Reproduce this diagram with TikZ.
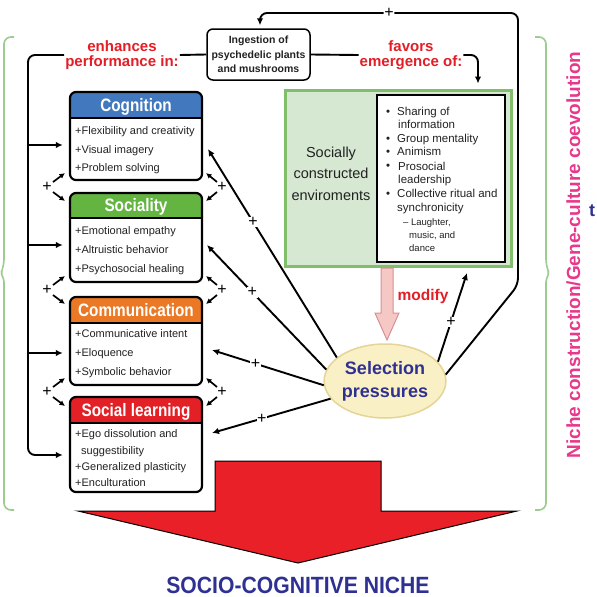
\documentclass[tikz,border=0pt]{standalone}
\usepackage{fontspec}
\setmainfont{Liberation Sans}
\newfontfamily\narrowsf[FakeStretch=0.85]{Liberation Sans}
\newfontfamily\semisf[FakeStretch=0.9]{Liberation Sans}
\usetikzlibrary{shapes.geometric,arrows.meta,calc,fit}
\definecolor{redtxt}{RGB}{228,30,38}
\definecolor{navy}{RGB}{46,49,146}
\definecolor{pinkT}{RGB}{232,56,140}
\definecolor{cogblue}{RGB}{66,121,190}
\definecolor{socgreen}{RGB}{100,180,66}
\definecolor{comorange}{RGB}{234,120,36}
\definecolor{slred}{RGB}{226,32,38}
\definecolor{envfill}{RGB}{214,231,210}
\definecolor{envborder}{RGB}{128,190,108}
\definecolor{bracegreen}{RGB}{156,204,144}
\definecolor{elfill}{RGB}{250,240,198}
\definecolor{elborder}{RGB}{228,212,150}
\definecolor{modfill}{RGB}{245,200,198}
\definecolor{modborder}{RGB}{214,146,146}
\definecolor{bigred}{RGB}{234,32,40}
\definecolor{txt}{RGB}{34,34,34}

\newcommand\catbox[6]{%
  \begin{scope}
    \clip[rounded corners=6pt] (70,#2) rectangle (202,#4);
    \fill[#5] (70,#2) rectangle (202,#3);
  \end{scope}
  \draw[line width=2pt] (70,#3) -- (202,#3);
  \draw[boxframe] (70,#2) rectangle (202,#4);
  \node[inner sep=0pt, fit={(70,#2) (202,#4)}] (#1) {};
  \node[ttl] (#1t) at (136,{#3-6.5}) {#6};
}

\begin{document}
\begin{tikzpicture}[x=1pt,y=-1pt,
  ln/.style={line width=1.9pt},
  arr/.style={ln, -{Latex[length=7pt,width=6.5pt]}},
  sarr/.style={line width=1.7pt, -{Latex[length=5.5pt,width=5.5pt]}},
  plus/.style={font=\fontsize{16}{16}\selectfont, fill=white, inner sep=0.6pt},
  itm/.style={anchor=base west, inner sep=0pt, text=txt, font=\fontsize{11}{11}\selectfont},
  blt/.style={anchor=base west, inner sep=0pt, text=txt, font=\fontsize{11.5}{11.5}\selectfont},
  subitm/.style={anchor=base west, inner sep=0pt, text=txt, font=\fontsize{9.5}{9.5}\selectfont},
  ttl/.style={anchor=base, inner sep=0pt, text=white, font=\narrowsf\bfseries\fontsize{18}{18}\selectfont},
  boxframe/.style={draw, line width=2.2pt, rounded corners=6pt},
  rlab/.style={text=redtxt, font=\bfseries\fontsize{15}{15}\selectfont, align=center, inner sep=1pt},
  brace/.style={draw=bracegreen, line width=1.6pt, rounded corners=7pt},
]
\fill[white] (0,0) rectangle (597,597);
\useasboundingbox (0,0) rectangle (597,597);

% braces
\draw[brace] (14,37) -- (4,37) -- (4,266) [rounded corners=2pt] -- (1,273) -- (4,280) [rounded corners=7pt] -- (4,510) -- (14,510);
\draw[brace] (535,37) -- (546,37) -- (546,266) [rounded corners=2pt] -- (549,273) -- (546,280) [rounded corners=7pt] -- (546,510) -- (535,510);

% side labels
\node[rotate=90, anchor=base, text=pinkT, font=\bfseries\fontsize{19}{19}\selectfont, inner sep=0pt] (nc) at (580,255) {Niche construction/Gene-culture coevolution};
\node[anchor=base west, text=navy, font=\bfseries\fontsize{18}{18}\selectfont, inner sep=0pt] (tt) at (589,216) {t};

% big red arrow
\fill[bigred, draw=black, line width=1pt] (215,461) -- (381,461) -- (381,511) -- (517,511) -- (298,563) -- (78,511) -- (215,511) -- cycle;
\node[anchor=base, text=navy, font=\semisf\bfseries\fontsize{23.5}{23.5}\selectfont, inner sep=0pt] (niche) at (298,593) {SOCIO-COGNITIVE NICHE};

% ingestion
\node[draw, line width=1.5pt, rounded corners=6pt, minimum width=103pt, minimum height=51pt, align=center, font=\bfseries\fontsize{10.5}{14.5}\selectfont, text=txt, inner sep=0pt] (ing) at (258.5,54.5) {Ingestion of\\psychedelic plants\\and mushrooms};
\node[rlab] (enh) at (122,55) {enhances\\performance in:};
\node[rlab] (fav) at (411,55) {favors\\emergence of:};

% category boxes
\catbox{cog}{92}{118}{180}{cogblue}{Cognition}
\catbox{soc}{193}{218}{282}{socgreen}{Sociality}
\catbox{com}{297}{323}{385}{comorange}{Communication}
\catbox{sl}{397}{423}{492}{slred}{Social learning}

\node[itm] (c1) at (75,134) {+Flexibility and creativity};
\node[itm] (c2) at (75,153) {+Visual imagery};
\node[itm] (c3) at (75,171) {+Problem solving};
\node[itm] (s1) at (75,234) {+Emotional empathy};
\node[itm] (s2) at (75,253) {+Altruistic behavior};
\node[itm] (s3) at (75,272) {+Psychosocial healing};
\node[itm] (m1) at (75,337) {+Communicative intent};
\node[itm] (m2) at (75,356) {+Eloquence};
\node[itm] (m3) at (75,375) {+Symbolic behavior};
\node[itm] (l1) at (75,437) {+Ego dissolution and};
\node[itm] (l2) at (81,454) {suggestibility};
\node[itm] (l3) at (75,470) {+Generalized plasticity};
\node[itm] (l4) at (75,486) {+Enculturation};

% socially constructed environments
\node[draw=envborder, fill=envfill, line width=3pt, minimum width=226pt, minimum height=176pt, inner sep=0pt] (env) at (398,178) {};
\node[draw=black, fill=white, line width=2.8pt, minimum width=128pt, minimum height=167pt, inner sep=0pt] (lst) at (441,178.5) {};
\node[anchor=base, text=txt, font=\fontsize{14.5}{14.5}\selectfont, inner sep=0pt] (e1) at (331,157) {Socially};
\node[anchor=base, text=txt, font=\fontsize{14.5}{14.5}\selectfont, inner sep=0pt] (e2) at (331,178) {constructed};
\node[anchor=base, text=txt, font=\fontsize{14.5}{14.5}\selectfont, inner sep=0pt] (e3) at (331,200) {enviroments};

\node[blt] (d1) at (386,115) {\textbullet};
\node[blt] (t1) at (397,115) {Sharing of};
\node[blt] (t1b) at (398,128) {information};
\node[blt] (d2) at (386,142) {\textbullet};
\node[blt] (t2) at (397,142) {Group mentality};
\node[blt] (d3) at (386,155) {\textbullet};
\node[blt] (t3) at (397,155) {Animism};
\node[blt] (d4) at (386,169) {\textbullet};
\node[blt] (t4) at (398,170) {Prosocial};
\node[blt] (t4b) at (398,183) {leadership};
\node[blt] (d5) at (386,197) {\textbullet};
\node[blt] (t5) at (397,197) {Collective ritual and};
\node[blt] (t5b) at (397,211) {synchronicity};
\node[subitm] (u1) at (403,225) {-- Laughter,};
\node[subitm] (u2) at (409,238) {music, and};
\node[subitm] (u3) at (409,251) {dance};

% modify arrow
\filldraw[fill=modfill, draw=modborder, line width=1pt] (381,268) -- (393,268) -- (393,313) -- (399,313) -- (387,340) -- (375,313) -- (381,313) -- cycle;
\node[text=redtxt, font=\bfseries\fontsize{15.5}{15.5}\selectfont, inner sep=0pt] (mod) at (423,296) {modify};

% selection pressures
\node[ellipse, draw=elborder, fill=elfill, line width=1.5pt, minimum width=116pt, minimum height=74pt, inner sep=0pt, align=center, text=navy, font=\bfseries\fontsize{18}{23}\selectfont] (sel) at (385,381) {Selection\\pressures};

% top connectors
\draw[ln] (ing.west) -- (enh.east);
\draw[ln] (ing.east) -- (fav.west);
\coordinate (lt) at (28,55);
\coordinate (lb) at (28,455);
\coordinate (rc) at (478,55);
\draw[arr, rounded corners=7pt, shorten >=7pt] (enh.west) -- (lt) -- (lb) -- (sl.west |- lb);
\draw[arr, rounded corners=7pt, shorten >=5pt] (fav.east) -- (rc) -- (rc |- env.north);
\coordinate (b1) at (28,145);
\coordinate (b2) at (28,245);
\coordinate (b3) at (28,353);
\draw[arr, shorten >=7pt] (b1) -- (cog.west |- b1);
\draw[arr, shorten >=7pt] (b2) -- (soc.west |- b2);
\draw[arr, shorten >=7pt] (b3) -- (com.west |- b3);

% feedback loop
\coordinate (lr) at (518,285);
\coordinate (tr) at (518,13);
\coordinate (tl) at (260,13);
\draw[arr, rounded corners=7pt, shorten >=3pt] (sel.6) -- (lr) -- (tr) -- node[plus]{+} (tl) -- (tl |- ing.north);

% selection pressures to boxes
\coordinate (tC) at (208,149);
\coordinate (tS) at (207,245);
\coordinate (tM) at (212,350);
\coordinate (tL) at (212,433);
\coordinate (tE) at (467,273);
\draw[arr] (sel.154) -- node[plus, pos=0.65]{+} (tC);
\draw[arr] (sel.169) -- node[plus, pos=0.62]{+} (tS);
\draw[arr] (sel.184) -- node[plus, pos=0.61]{+} (tM);
\draw[arr] (sel.198) -- node[plus, pos=0.58]{+} (tL);
\draw[arr] (sel.20) -- node[plus, pos=0.45]{+} (tE);

% mutual reinforcement between boxes
\foreach \n/\y in {a/187,b/290,c/392}{
  \node[plus, fill=none] (pl\n) at (47,\y) {+};
  \node[plus, fill=none] (pr\n) at (222,\y) {+};
  \draw[sarr] (53,{\y-5}) -- (65,{\y-14});
  \draw[sarr] (53,{\y+5}) -- (65,{\y+14});
  \draw[sarr] (217,{\y-5}) -- (206,{\y-14});
  \draw[sarr] (217,{\y+5}) -- (206,{\y+14});
}
\end{tikzpicture}
\end{document}
